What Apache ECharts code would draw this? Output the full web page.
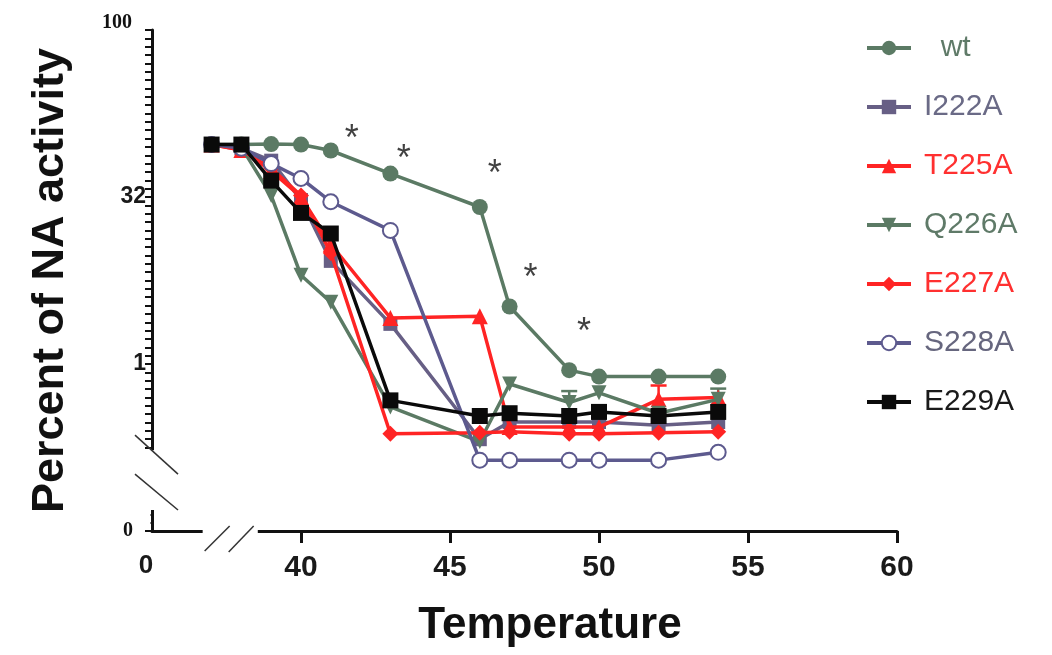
<!DOCTYPE html>
<html><head><meta charset="utf-8">
<script src="https://cdn.jsdelivr.net/npm/echarts@6/dist/echarts.min.js"></script>
<style>html,body{margin:0;padding:0;background:#fff}#c{width:1052px;height:655px}</style>
</head><body><div id="c"></div>
<script>
// ---- data ----
const temps = [37, 38, 39, 40, 41, 43, 46, 47, 49, 50, 52, 54];
const wt    = [95, 95, 96, 95, 84, 52, 26, 3.3, 0.88, 0.77, 0.77, 0.77];
const I222A = [95, 88, 68, 30, 8.5, 2.3, 0.21, 0.3, 0.3, 0.3, 0.28, 0.3];
const T225A = [95, 85, 55, 32, 12, 2.6, 2.7, 0.27, 0.27, 0.27, 0.48, 0.5];
const Q226A = [95, 90, 33, 6.3, 3.6, 0.41, 0.2, 0.66, 0.45, 0.55, 0.36, 0.48];
const E227A = [95, 85, 58, 33, 10, 0.235, 0.24, 0.245, 0.235, 0.235, 0.24, 0.245];
const S228A = [95, 88, 64, 47, 29, 16, 0.136, 0.136, 0.136, 0.136, 0.136, 0.16];
const E229A = [95, 95, 45, 23, 15, 0.47, 0.34, 0.36, 0.34, 0.37, 0.34, 0.37];
// upper error bars that stand out of the markers
const errSeries = ['Q226A', 'T225A', 'Q226A'];
const errX      = [49, 52, 54];
const errHigh   = [0.57, 0.64, 0.6];
// significance asterisks
const starX = [41.7, 43.45, 46.5, 47.7, 49.5];
const starY = [121, 80, 58, 6.7, 2.2];
const xTickValues = [35, 40, 45, 50, 55, 60];
const xTickLabels = ['0', '40', '45', '50', '55', '60'];
const yTickValues = [1 / 32, 1, 32, 1024];
const yTickLabels = ['0', '1', '32', '100'];

const seriesNames = ['wt', 'I222A', 'T225A', 'Q226A', 'E227A', 'S228A', 'E229A'];
const seriesData = [wt, I222A, T225A, Q226A, E227A, S228A, E229A];
const colors = ['#5b7a64', '#675f85', '#ff2424', '#5b7a64', '#ff2424', '#5d5a8e', '#0a0a0a'];
const textColors = ['#5f7a68', '#6a6a86', '#ff3030', '#5f7a68', '#ff3030', '#66667e', '#1a1a1a'];
const symbols = ['circle', 'rect', 'triangle', 'triangle', 'diamond', 'emptyCircle', 'rect'];
const symRot = [0, 0, 0, 180, 0, 0, 0];
const symSize = [16, 14, 16, 15, 16, 15, 16];

const series = seriesNames.map((n, i) => ({
  name: n,
  type: 'line',
  data: temps.map((t, j) => [t, seriesData[i][j]]),
  symbol: symbols[i],
  symbolRotate: symRot[i],
  symbolSize: symSize[i],
  color: colors[i],
  lineStyle: { width: 3.5, color: colors[i] },
  itemStyle: { color: colors[i], borderWidth: symbols[i] === 'emptyCircle' ? 3 : 0 },
  emphasis: { disabled: true },
  animation: false,
  z: 2 + i
}));
series.push({
  name: 'err',
  type: 'custom',
  data: errSeries.map((s, i) => {
    const k = seriesNames.indexOf(s);
    return [errX[i], seriesData[k][temps.indexOf(errX[i])], errHigh[i], k];
  }),
  renderItem: (params, api) => {
    const a = api.coord([api.value(0), api.value(1)]);
    const b = api.coord([api.value(0), api.value(2)]);
    const c = colors[api.value(3)];
    const st = { stroke: c, lineWidth: 2.5 };
    return { type: 'group', children: [
      { type: 'line', shape: { x1: a[0], y1: a[1], x2: b[0], y2: b[1] }, style: st },
      { type: 'line', shape: { x1: b[0] - 8, y1: b[1], x2: b[0] + 8, y2: b[1] }, style: st }
    ] };
  },
  silent: true, animation: false, z: 1
});
series.push({
  name: 'sig',
  type: 'scatter',
  data: starX.map((x, i) => [x, starY[i]]),
  symbolSize: 1,
  itemStyle: { color: 'rgba(0,0,0,0)' },
  label: { show: true, position: 'inside', formatter: '*', fontSize: 36, color: '#111', fontFamily: 'Liberation Sans', offset: [0, 7] },
  silent: true,
  animation: false,
  z: 20
});

function sameVal(a, b) { return Math.abs(Math.log2(a) - Math.log2(b)) < 1e-6; }

const option = {
  backgroundColor: '#fff',
  animation: false,
  grid: { left: 152, top: 30, width: 745, height: 501, containLabel: false, outerBoundsMode: 'none' },
  xAxis: {
    type: 'value', min: 35, max: 60, interval: 5,
    axisLine: { onZero: false, lineStyle: { color: '#111', width: 3 } },
    axisTick: { show: true, length: 12, inside: false, lineStyle: { color: '#111', width: 3 }, customValues: [40, 45, 50, 55, 60] },
    axisLabel: {
      margin: 22, fontSize: 30, fontWeight: 'bold', color: '#1a1a1a', fontFamily: 'Liberation Sans',
      formatter: v => { const k = xTickValues.indexOf(v); return k === 0 ? '{z|' + xTickLabels[k] + '}' : (k > 0 ? xTickLabels[k] : ''); },
      rich: { z: { fontSize: 26, fontWeight: 'bold', fontFamily: 'Liberation Sans', color: '#1a1a1a', padding: [0, 12, 0, 0] } }
    },
    splitLine: { show: false },
    name: 'Temperature', nameLocation: 'middle', nameGap: 73,
    nameTextStyle: { fontSize: 44, fontWeight: 'bold', color: '#111', fontFamily: 'Liberation Sans', padding: [0, 0, 0, 51] }
  },
  yAxis: {
    type: 'log', logBase: 2, min: 1 / 32, max: 1024, interval: 0.25,
    axisLine: { onZero: false, lineStyle: { color: '#111', width: 3 } },
    axisTick: { show: true, length: 7, lineStyle: { color: '#111', width: 2 } },
    axisLabel: {
      margin: 6, fontSize: 23, fontWeight: 'bold', color: '#1a1a1a', fontFamily: 'Liberation Sans',
      formatter: v => {
        for (let k = 0; k < yTickValues.length; k++) {
          if (sameVal(v, yTickValues[k])) {
            if (k === 0) return '{z|' + yTickLabels[k] + '}';
            if (k === 3) return '{t|' + yTickLabels[k] + '}';
            return yTickLabels[k];
          }
        }
        return '';
      },
      rich: {
        z: { fontSize: 20, fontWeight: 'bold', fontFamily: 'Liberation Serif', color: '#111', padding: [0, 13, 0, 0] },
        t: { fontSize: 20, fontWeight: 'bold', fontFamily: 'Liberation Serif', color: '#111', padding: [0, 14, 14, 0] }
      }
    },
    splitLine: { show: false },
    name: 'Percent of NA activity', nameLocation: 'middle', nameGap: 79, nameRotate: 90,
    nameTextStyle: { fontSize: 45, fontWeight: 'bold', color: '#111', fontFamily: 'Liberation Sans' }
  },
  legend: {
    orient: 'vertical', left: 860, top: 28,
    itemWidth: 44, itemHeight: 18, itemGap: 29,
    lineStyle: { width: 4 },
    textStyle: { fontSize: 30, fontFamily: 'Liberation Sans', lineHeight: 30, padding: [0, 0, 0, 8] },
    formatter: n => n === 'wt' ? '  wt' : n,
    data: seriesNames.map((n, i) => ({ name: n, textStyle: { color: textColors[i] } })),
    selectedMode: false
  },
  series: series
};

const chart = echarts.init(document.getElementById('c'), null, { renderer: 'canvas' });
chart.setOption(option);

// axis-break decorations, positioned from the axes' own scales
const P = (x, y) => chart.convertToPixel({ gridIndex: 0 }, [x, y]);
const o = P(35, 1 / 32);
const ox = o[0], oy = o[1];
const xa = P(36.7, 1)[0], xb = P(38.55, 1)[0];
const yTopBreak = P(35, Math.pow(2, -2.55))[1];
const ln = (x1, y1, x2, y2) => ({ type: 'line', shape: { x1, y1, x2, y2 }, style: { stroke: '#333', lineWidth: 1.5 }, z: 100 });
chart.setOption({
  graphic: [
    { type: 'rect', shape: { x: xa, y: oy - 4, width: xb - xa, height: 9 }, style: { fill: '#fff' }, z: 99 },
    { type: 'rect', shape: { x: ox - 10, y: yTopBreak + 1, width: 14, height: (oy - 21) - (yTopBreak + 1) }, style: { fill: '#fff' }, z: 99 },
    { type: 'rect', shape: { x: ox - 9, y: oy - 22, width: 7.5, height: 17 }, style: { fill: '#fff' }, z: 99 },
    ln(xa + 2, oy + 20, xa + 27, oy - 5),
    ln(xa + 26, oy + 21, xa + 51, oy - 5),
    ln(ox - 17, yTopBreak - 14, ox + 26, yTopBreak + 25),
    ln(ox - 17, yTopBreak + 25, ox + 26, oy - 21)
  ]
});
</script>
</body></html>
